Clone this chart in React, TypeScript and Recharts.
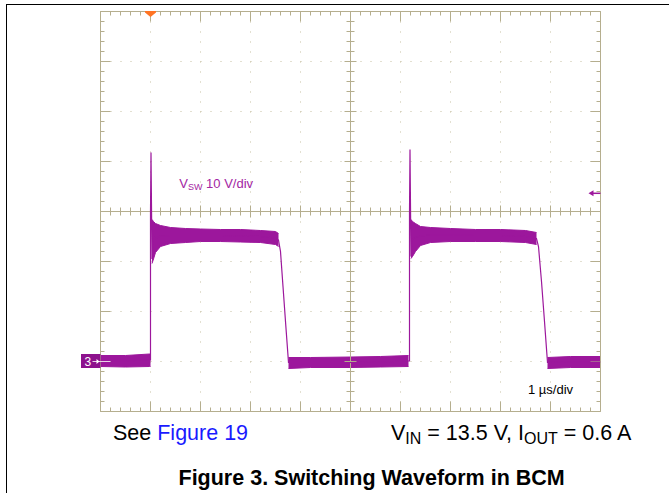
import { Area, CartesianGrid, ComposedChart, Line, ReferenceDot, ReferenceLine, XAxis, YAxis } from "recharts";

// scope capture: 1 us/div horizontally, 10 V/div vertically, ground at 0 V
const timeUs = [
  0, 0.5, 0.98, 1.0, 1.0, 1.01, 1.02, 1.03, 1.06, 1.1, 1.2, 1.4, 1.7, 2.0, 2.4, 2.8, 3.2, 3.5, 3.56, 3.6, 3.65, 3.7,
  3.76, 4.2, 5.0, 5.6, 6.16, 6.18, 6.18, 6.19, 6.2, 6.21, 6.24, 6.3, 6.4, 6.6, 7.0, 7.5, 8.0, 8.5, 8.72, 8.76, 8.82,
  8.88, 8.94, 9.4, 10.0,
];
const vswVolts = [
  0.1, 0.1, 0.3, 0.3, 30, 41.8, 31, 20.5, 25, 24.6, 25.1, 25.2, 25.2, 25.2, 25.2, 25.1, 25.0, 24.7, 24.3, 22.0, 15.0, 8.0,
  -0.2, -0.2, -0.2, -0.1, 0.1, 0.1, 30, 42.4, 31, 21, 24.5, 24.8, 25.1, 25.3, 25.3, 25.2, 25.2, 25.0, 24.6, 23.0, 16.0,
  8.0, -0.2, -0.1, -0.1,
];
// envelope of the noisy trace on the flat parts (null on the edges)
const noiseLow = [
  -1.0, -1.1, -1.0, -1.0, null, null, null, 19.6, 20.5, 21.8, 23.0, 23.6, 23.8, 24.0, 24.0, 23.9, 23.8, 23.4, 23.0, null, null, null,
  -1.4, -1.2, -1.2, -1.1, -1.0, null, null, null, null, 20.6, 21.0, 22.0, 23.2, 23.8, 24.0, 24.0, 24.0, 23.8, 23.4, null, null,
  null, -1.4, -1.2, -1.2,
];
const noiseHigh = [
  1.2, 1.2, 1.5, 1.6, null, null, null, 28.4, 28.0, 27.6, 27.2, 26.8, 26.6, 26.5, 26.4, 26.4, 26.2, 26.0, 25.6, null, null, null,
  0.8, 0.8, 0.9, 1.0, 1.2, null, null, null, null, 28.4, 28.0, 27.6, 27.0, 26.8, 26.6, 26.4, 26.4, 26.2, 25.8, null, null,
  null, 0.8, 1.0, 1.0,
];

const xDivisions = [0, 1, 2, 3, 4, 5, 6, 7, 8, 9, 10];
const yDivisions = [-10, 0, 10, 20, 30, 40, 50, 60, 70];

const chartData = timeUs.map((t, i) => ({
  t,
  v: vswVolts[i],
  band: noiseLow[i] == null ? null : [noiseLow[i], noiseHigh[i]],
}));

const FONT = "'Liberation Sans', Arial, Helvetica, sans-serif";
const GRID = "#b5ae8e";
const DOTS = "#c6c0a2";
const TRACE = "#9c179c";

// one pixel in data units (50 px per division)
const PX_T = 0.02;
const PX_V = 0.2;

function subTicks(divs: number[]) {
  const out: { val: number; major: boolean }[] = [];
  for (let i = 0; i < divs.length - 1; i++) {
    for (let k = 0; k < 5; k++) out.push({ val: divs[i] + ((divs[i + 1] - divs[i]) * k) / 5, major: k === 0 });
  }
  out.push({ val: divs[divs.length - 1], major: true });
  return out;
}

type Seg = [{ x: number; y: number }, { x: number; y: number }];
const tickSegs: Seg[] = [];
const yTop = yDivisions[yDivisions.length - 1];
const yBot = yDivisions[0];
const xL = xDivisions[0];
const xR = xDivisions[xDivisions.length - 1];
const xMid = 5;
const yMid = 30;
subTicks(xDivisions).forEach(({ val, major }) => {
  const len = major ? 10 : 4;
  const c = major ? 6 : 4;
  tickSegs.push([{ x: val, y: yTop }, { x: val, y: yTop - len * PX_V }]);
  tickSegs.push([{ x: val, y: yBot }, { x: val, y: yBot + len * PX_V }]);
  tickSegs.push([{ x: val, y: yMid - c * PX_V }, { x: val, y: yMid + c * PX_V }]);
});
subTicks(yDivisions).forEach(({ val, major }) => {
  const len = major ? 10 : 4;
  const c = major ? 6 : 4;
  tickSegs.push([{ x: xL, y: val }, { x: xL + len * PX_T, y: val }]);
  tickSegs.push([{ x: xR, y: val }, { x: xR - len * PX_T, y: val }]);
  tickSegs.push([{ x: xMid - c * PX_T, y: val }, { x: xMid + c * PX_T, y: val }]);
});

const TriggerMark = (p: any) => (
  <polygon
    points={`${p.cx - 5.5},${p.cy - 0.5} ${p.cx + 5.5},${p.cy - 0.5} ${p.cx + 5.5},${p.cy + 1} ${p.cx},${p.cy + 5.5} ${p.cx - 5.5},${p.cy + 1}`}
    fill="#ff7424"
  />
);

const LevelArrow = (p: any) => (
  <g>
    <path d={`M${p.cx - 12},${p.cy} L${p.cx - 7},${p.cy - 3} L${p.cx - 7},${p.cy + 3} Z`} fill={TRACE} />
    <line x1={p.cx - 8} y1={p.cy} x2={p.cx} y2={p.cy} stroke={TRACE} strokeWidth={1.5} />
  </g>
);

const GroundMark = (p: any) => (
  <g>
    <rect x={p.cx - 19.5} y={p.cy - 7.5} width={19.5} height={14} fill="#8d128d" />
    <text x={p.cx - 16} y={p.cy + 4.5} fill="#fff" fontSize={12} fontFamily={FONT}>
      3
    </text>
    <line x1={p.cx - 8} y1={p.cy} x2={p.cx + 10} y2={p.cy} stroke="#e8d3e8" strokeWidth={1} />
    <path d={`M${p.cx - 1},${p.cy} L${p.cx - 4},${p.cy - 2.5} L${p.cx - 4},${p.cy + 2.5} Z`} fill="#fff" />
  </g>
);

const VswLabel = (p: any) => (
  <text x={p.cx} y={p.cy} fill="#a325a3" fontSize={13} fontFamily={FONT}>
    V
    <tspan fontSize={9} dy={2}>
      SW
    </tspan>
    <tspan dy={-2}> 10 V/div</tspan>
  </text>
);

const TimeLabel = (p: any) => (
  <text x={p.cx} y={p.cy} fill="#000" fontSize={13} fontFamily={FONT}>
    1 µs/div
  </text>
);

const sub = { fontSize: 16, position: "relative" as const, top: 4 };
const caption = { position: "absolute" as const, fontSize: 21.5, lineHeight: "21.5px", whiteSpace: "nowrap" as const, color: "#000" };

export default function App() {
  return (
    <div style={{ position: "relative", width: 669, height: 493, background: "#fff", overflow: "hidden", fontFamily: FONT }}>
      <style>{`body{margin:0}`}</style>
      <div style={{ position: "absolute", left: 6, top: 4, width: 663, height: 1, background: "#000" }} />
      <div style={{ position: "absolute", left: 6, top: 4, width: 1, height: 489, background: "#000" }} />
      <div style={{ position: "absolute", left: 0, top: 0 }}>
        <ComposedChart width={669} height={493} data={chartData} margin={{ top: 11.5, right: 68.5, bottom: 81.5, left: 100.5 }}>
          <XAxis type="number" dataKey="t" domain={[0, 10]} ticks={xDivisions} allowDataOverflow hide />
          <YAxis type="number" domain={[-10, 70]} ticks={yDivisions} allowDataOverflow hide />
          <CartesianGrid stroke={DOTS} strokeDasharray="1 9" />
          {tickSegs.map((s, i) => (
            <ReferenceLine key={`tk${i}`} segment={s} stroke={GRID} strokeWidth={1} ifOverflow="visible" />
          ))}
          <ReferenceLine x={0} stroke={GRID} strokeWidth={1} />
          <ReferenceLine x={10} stroke={GRID} strokeWidth={1} />
          <ReferenceLine x={5} stroke={GRID} strokeWidth={1} />
          <ReferenceLine y={-10} stroke={GRID} strokeWidth={1} />
          <ReferenceLine y={70} stroke={GRID} strokeWidth={1} />
          <ReferenceLine y={30} stroke={GRID} strokeWidth={1} />
          <Area
            dataKey="band"
            type="linear"
            stroke={TRACE}
            strokeWidth={1}
            fill={TRACE}
            fillOpacity={1}
            isAnimationActive={false}
            activeDot={false}
          />
          <Line dataKey="v" type="linear" stroke={TRACE} strokeWidth={1.2} dot={false} activeDot={false} isAnimationActive={false} />
          <ReferenceDot x={1} y={70} r={0} ifOverflow="visible" shape={TriggerMark} />
          <ReferenceDot x={10} y={33.64} r={0} ifOverflow="visible" shape={LevelArrow} />
          <ReferenceDot x={0} y={0} r={0} ifOverflow="visible" shape={GroundMark} />
          <ReferenceDot x={1.576} y={34.64} r={0} ifOverflow="visible" shape={VswLabel} />
          <ReferenceDot x={8.55} y={-6.5} r={0} ifOverflow="visible" shape={TimeLabel} />
        </ComposedChart>
      </div>
      <div style={{ ...caption, left: 113, top: 422.8 }}>
        See <span style={{ color: "#1a1aff" }}>Figure 19</span>
      </div>
      <div style={{ ...caption, left: 391, top: 422.8 }}>
        V<span style={sub}>IN</span> = 13.5 V, I<span style={sub}>OUT</span> = 0.6 A
      </div>
      <div style={{ ...caption, left: 178.5, top: 467.8, fontWeight: 700 }}>Figure 3. Switching Waveform in BCM</div>
    </div>
  );
}
